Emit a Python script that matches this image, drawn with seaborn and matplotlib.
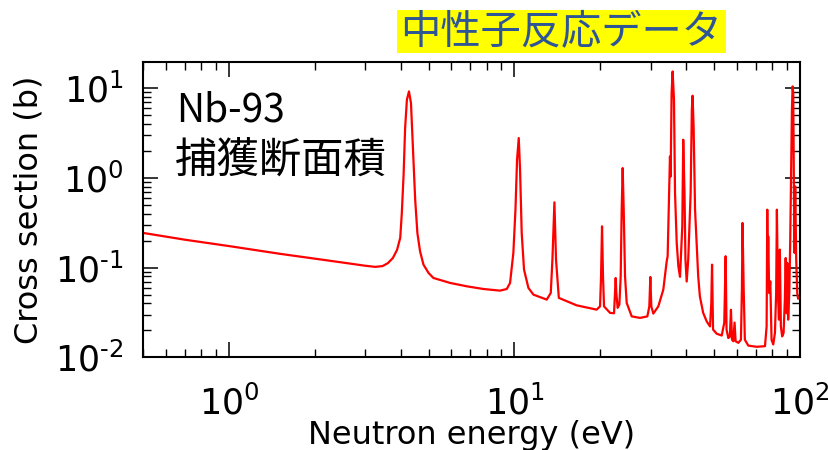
import numpy as np
import pandas as pd
import matplotlib
matplotlib.use("Agg")
import matplotlib.pyplot as plt
from matplotlib.patches import Rectangle
from matplotlib.ticker import LogLocator, NullFormatter, FuncFormatter
import seaborn as sns

# Neutron energy (eV) and capture cross section (b)
energy = [
    0.5, 0.7, 1.0, 1.5, 2.0, 2.5, 3.0, 3.25, 3.45, 3.6, 3.75, 3.88, 3.98,
    4.03, 4.09, 4.14, 4.20, 4.27, 4.34, 4.40, 4.49, 4.57, 4.67, 4.80,
    5.00, 5.20, 5.95, 6.81, 7.78, 8.90, 9.40, 9.65, 9.91, 10.08, 10.21,
    10.35, 10.46, 10.60, 10.80, 11.19, 11.65, 12.97, 13.40, 13.58, 13.80,
    13.98, 14.3, 16.5, 19.4, 19.94, 20.10, 20.26, 20.42, 20.59, 21.61,
    22.32, 22.50, 22.62, 22.74, 22.98, 23.30, 23.55, 23.74, 23.93, 24.13,
    24.39, 24.72, 25.74, 27.52, 29.20, 29.67, 29.91, 30.15, 30.64, 31.90,
    33.21, 34.12, 34.39, 34.76, 35.04, 35.23, 35.51, 35.80, 36.19, 36.50,
    37.0, 37.5, 38.0, 38.7, 39.0, 39.4, 39.7, 40.1, 40.6, 41.4, 41.8,
    42.05, 42.4, 42.9, 44.0, 44.6, 45.8, 47.1, 48.4, 48.9, 49.2, 49.6,
    51.1, 53.2, 54.3, 54.9, 55.3, 56.1, 56.8, 57.3, 57.8, 58.4, 59.0,
    59.5, 60.8, 62.1, 62.6, 62.9, 63.5, 64.1, 65.9, 70.5, 75.4, 76.4,
    76.8, 77.1, 77.4, 78.0, 78.7, 79.5, 80.6, 81.7, 82.5, 83.0, 83.7,
    84.4, 85.0, 85.7, 86.6, 87.6, 88.5, 89.1, 89.8, 90.2, 90.9, 91.7,
    92.4, 93.2, 93.7, 94.2, 94.7, 95.2, 95.7, 96.2, 97.0, 97.8, 98.5,
]
cross_section = [
    0.244, 0.205, 0.174, 0.143, 0.126, 0.114, 0.105, 0.102, 0.104, 0.112, 0.128, 0.158, 0.215,
    0.40, 1.10, 3.60, 7.46, 9.23, 6.86, 2.45, 0.573, 0.244, 0.152, 0.108,
    0.0873, 0.0767, 0.0675, 0.0619, 0.0578, 0.0554, 0.0578, 0.0675, 0.146, 0.443, 1.60,
    2.79, 1.24, 0.244, 0.095, 0.0594, 0.050, 0.044, 0.0522, 0.123, 0.535,
    0.123, 0.046, 0.038, 0.034, 0.037, 0.080, 0.289, 0.080, 0.037, 0.0313,
    0.031, 0.052, 0.0767, 0.052, 0.0356, 0.0387, 0.080, 0.443, 1.29, 0.443,
    0.080, 0.0404, 0.0286, 0.0275, 0.0286, 0.037, 0.0787, 0.037, 0.0307, 0.037,
    0.0569, 0.117, 0.134, 0.573, 1.74, 1.04, 8.87, 15.4, 7.46, 0.68,
    0.189, 0.103, 0.079, 0.289, 2.67, 0.68, 0.123, 0.070, 0.123, 0.68, 5.78,
    8.27, 3.76, 0.443, 0.080, 0.0478, 0.0313, 0.0252, 0.0221, 0.040, 0.108, 0.0204,
    0.0183, 0.0175, 0.0244, 0.134, 0.0204, 0.0164, 0.017, 0.0339, 0.0157, 0.0151, 0.0244,
    0.0151, 0.0145, 0.0157, 0.0569, 0.315, 0.0569, 0.0157, 0.0135, 0.0131, 0.0133, 0.0221,
    0.443, 0.10, 0.223, 0.052, 0.0703, 0.0157, 0.0139, 0.0187, 0.052, 0.443, 0.052,
    0.0263, 0.159, 0.0221, 0.0171, 0.0187, 0.0439, 0.128, 0.031, 0.113, 0.0263, 0.052,
    0.189, 1.60, 5.78, 10.5, 8.87, 0.806, 0.146, 0.806, 0.123, 0.052, 0.045,
]

title_text = "中性子反応データ"
label_line1 = "Nb-93"
label_line2 = "捕獲断面積"
x_label = "Neutron energy (eV)"
y_label = "Cross section (b)"

sns.set_theme(style="ticks")
plt.rcParams["font.family"] = ["DejaVu Sans"]
plt.rcParams["axes.unicode_minus"] = False

df = pd.DataFrame({"energy": energy, "xs": cross_section})

W, H = 829, 450
ax_l, ax_r, ax_t, ax_b = 143, 800, 61.7, 357.3
fig = plt.figure(figsize=(W / 100, H / 100), dpi=100)
ax = fig.add_axes([ax_l / W, 1 - ax_b / H, (ax_r - ax_l) / W, (ax_b - ax_t) / H])

sns.lineplot(data=df, x="energy", y="xs", ax=ax, color="#ff0000",
             linewidth=1.6, estimator=None, sort=False)

ax.set_xscale("log")
ax.set_yscale("log")
ax.set_xlim(0.5, 100)
ax.set_ylim(0.01, 19.8)


def pow10_label(v, pos):
    e = int(round(np.log10(v)))
    exp = r"\text{-}" + str(-e) if e < 0 else str(e)
    return r"$\mathregular{10^{" + exp + r"}}$"


ax.xaxis.set_major_locator(LogLocator(base=10, numticks=10))
ax.xaxis.set_minor_locator(LogLocator(base=10, subs=np.arange(2, 10), numticks=20))
ax.yaxis.set_major_locator(LogLocator(base=10, numticks=10))
ax.yaxis.set_minor_locator(LogLocator(base=10, subs=np.arange(2, 10), numticks=20))
ax.xaxis.set_major_formatter(FuncFormatter(pow10_label))
ax.yaxis.set_major_formatter(FuncFormatter(pow10_label))
ax.xaxis.set_minor_formatter(NullFormatter())
ax.yaxis.set_minor_formatter(NullFormatter())

ax.tick_params(which="both", direction="in", top=True, right=True, colors="black")
ax.tick_params(which="major", length=10.5, width=1.1, labelsize=25)
ax.tick_params(axis="y", which="major", pad=14)
ax.tick_params(axis="x", which="major", pad=20)
ax.tick_params(which="minor", length=6, width=1.0)
for sp in ax.spines.values():
    sp.set_linewidth(1.5)
    sp.set_color("black")

pw, ph = ax_r - ax_l, ax_b - ax_t
ax.set_xlabel(x_label, fontsize=23, color="black")
ax.xaxis.set_label_coords(0.5, (ax_b - 444) / ph)
ax.xaxis.label.set_va("baseline")
ax.set_ylabel(y_label, fontsize=23, color="black")
ax.yaxis.set_label_coords((14 - ax_l) / pw, 0.5)
ax.yaxis.label.set_va("top")

ax.text((176 - ax_l) / pw, 1 - (122 - ax_t) / ph, label_line1, transform=ax.transAxes,
        fontsize=28, family=["Noto Sans CJK JP", "DejaVu Sans"], va="baseline",
        ha="left", color="black")
ax.text((175 - ax_l) / pw, 1 - (173 - ax_t) / ph, label_line2, transform=ax.transAxes,
        fontsize=30.5, family=["Noto Sans CJK JP", "DejaVu Sans"], va="baseline",
        ha="left", color="black")

fig.patches.append(Rectangle((397 / W, 1 - 52.7 / H), 329 / W, 42.7 / H,
                             transform=fig.transFigure, facecolor="#ffff00",
                             edgecolor="none", zorder=0))
fig.text(561.5 / W, 1 - 31.5 / H, title_text, fontsize=29,
         family=["Noto Sans CJK JP", "DejaVu Sans"], color="#2e5596",
         ha="center", va="center")

fig.savefig("out.png", dpi=100, facecolor="white")
